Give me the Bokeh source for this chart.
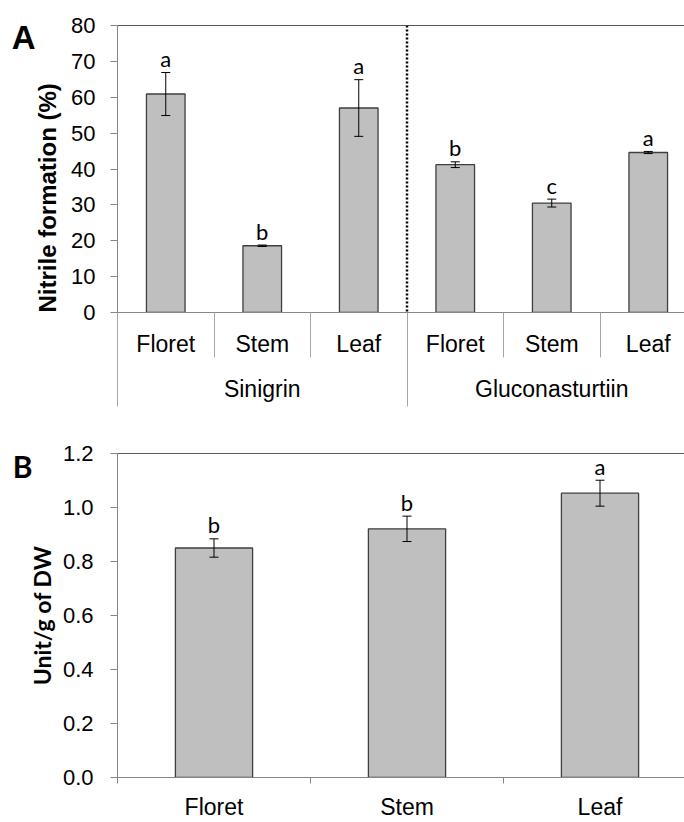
import math
from bokeh.plotting import figure
from bokeh.layouts import column
from bokeh.models import (Range1d, LinearAxis, FixedTicker, Whisker, TeeHead,
                          ColumnDataSource, Span, Title, NumeralTickFormatter)
from bokeh.core.properties import value
from bokeh.embed import file_html
from bokeh.resources import INLINE

# ---------------- data ----------------
# Panel A: nitrile formation (%)
a_groups = ["Sinigrin", "Gluconasturtiin"]
a_tissues = ["Floret", "Stem", "Leaf"]
a_means = [60.9, 18.6, 57.0, 41.2, 30.5, 44.6]
a_errors = [6.0, 0.2, 7.9, 0.8, 1.1, 0.3]
a_letters = ["a", "b", "a", "b", "c", "a"]
a_ticks = [0, 10, 20, 30, 40, 50, 60, 70, 80]

# Panel B: Unit/g of DW
b_tissues = ["Floret", "Stem", "Leaf"]
b_means = [0.850, 0.921, 1.053]
b_errors = [0.034, 0.047, 0.048]
b_letters = ["b", "b", "a"]
b_ticks = [0.0, 0.2, 0.4, 0.6, 0.8, 1.0, 1.2]

# ---------------- styles ----------------
W = 684
LEFT = 117
BAR_FILL = "#BFBFBF"
BAR_LINE = "#3F3F3F"
AXIS_C = "#868686"
SEP_C = "#A6A6A6"
TICK_FONT = "Liberation Sans"
LETTER_FONT = "Lato"


def base_fig(height, top, bottom, cat_px, ymax):
    p = figure(width=W, height=height, output_backend="svg", toolbar_location=None,
               x_range=Range1d(0, (W - LEFT) / cat_px), y_range=Range1d(0, ymax),
               min_border_left=LEFT, min_border_right=0,
               min_border_top=top, min_border_bottom=bottom,
               x_axis_location=None, y_axis_location=None)
    p.xgrid.visible = False
    p.ygrid.visible = False
    p.outline_line_color = None
    p.background_fill_color = "white"
    p.border_fill_color = "white"
    top_ax = LinearAxis(ticker=FixedTicker(ticks=[]), axis_line_color="#595959",
                        major_tick_line_color=None, minor_tick_line_color=None,
                        major_label_text_font_size="0px", major_label_standoff=0)
    p.add_layout(top_ax, "above")
    return p


def add_bars(p, means, errors, letters):
    xs = [i + 0.5 for i in range(len(means))]
    src = ColumnDataSource(dict(
        x=xs, top=means,
        upper=[m + e for m, e in zip(means, errors)],
        lower=[m - e for m, e in zip(means, errors)],
        letter=letters))
    p.vbar(x="x", top="top", width=0.4, bottom=0, source=src,
           fill_color=BAR_FILL, line_color=BAR_LINE, line_width=1.3)
    p.add_layout(Whisker(source=src, base="x", upper="upper", lower="lower",
                         level="overlay", line_color="black", line_width=1,
                         upper_head=TeeHead(size=9, line_color="black", line_width=1),
                         lower_head=TeeHead(size=9, line_color="black", line_width=1)))
    p.text(x="x", y="upper", text="letter", source=src, text_align="center",
           text_baseline="alphabetic", text_font=value(LETTER_FONT),
           text_font_size="22px", text_color="black", y_offset=-14)
    return xs


def y_axis(ticks, standoff):
    return LinearAxis(ticker=FixedTicker(ticks=ticks), major_tick_out=7, major_tick_in=0,
                      minor_tick_line_color=None, axis_line_color=AXIS_C,
                      major_tick_line_color=AXIS_C, major_label_standoff=standoff,
                      major_label_text_font=TICK_FONT, major_label_text_font_size="22px",
                      major_label_text_color="black")


def panel_letter_axis(letter, at, font, size, standoff):
    # a bare axis carrying only the panel letter as its single label
    return LinearAxis(ticker=FixedTicker(ticks=[at]), major_label_overrides={at: letter},
                      axis_line_color=None, major_tick_line_color=None,
                      minor_tick_line_color=None, major_tick_out=0, major_tick_in=0,
                      major_label_standoff=standoff, major_label_text_font=font,
                      major_label_text_font_style="bold", major_label_text_font_size=size,
                      major_label_text_color="black")


# ---------------- Panel A ----------------
a_labels = [t for g in a_groups for t in a_tissues]
pA = base_fig(440, 25, 128, 96.5, 80)
a_x = add_bars(pA, a_means, a_errors, a_letters)

pA.add_layout(y_axis(a_ticks, 15), "left")
pA.add_layout(Title(text="Nitrile formation (%)", align="left", offset=0,
                    standoff=16, text_font=TICK_FONT, text_font_style="bold",
                    text_font_size="24px", text_color="black"), "left")
pA.add_layout(panel_letter_axis("A", 76.6, TICK_FONT, "33px", -12), "left")

SEP_IN = 45
ax1 = LinearAxis(ticker=FixedTicker(ticks=a_x, minor_ticks=list(range(len(a_labels) + 1))),
                 major_label_overrides={x: lab for x, lab in zip(a_x, a_labels)},
                 major_tick_out=0, major_tick_in=0, major_tick_line_color=None,
                 minor_tick_out=SEP_IN, minor_tick_in=0, minor_tick_line_color=SEP_C,
                 axis_line_color=AXIS_C, major_label_standoff=18 - SEP_IN,
                 major_label_text_font=TICK_FONT, major_label_text_font_size="23px",
                 major_label_text_color="black")
pA.add_layout(ax1, "below")

n_t = len(a_tissues)
g_centers = [g * n_t + n_t / 2 for g in range(len(a_groups))]
g_bounds = [g * n_t for g in range(len(a_groups) + 1)]
SEP_OUT = 47
ax2 = LinearAxis(ticker=FixedTicker(ticks=g_centers, minor_ticks=g_bounds),
                 major_label_overrides={x: lab for x, lab in zip(g_centers, a_groups)},
                 major_tick_out=0, major_tick_in=0, major_tick_line_color=None,
                 minor_tick_out=SEP_OUT, minor_tick_in=3, minor_tick_line_color=SEP_C,
                 axis_line_color=None, major_label_standoff=16 - SEP_OUT,
                 major_label_text_font=TICK_FONT, major_label_text_font_size="23px",
                 major_label_text_color="black")
pA.add_layout(ax2, "below")

pA.add_layout(Span(location=n_t, dimension="height", line_color="black",
                   line_width=2.5, line_dash="2 2"))

# ---------------- Panel B ----------------
pB = base_fig(382, 13, 43, 193, 1.2)
b_x = add_bars(pB, b_means, b_errors, b_letters)

ayB = y_axis(b_ticks, 17)
ayB.formatter = NumeralTickFormatter(format="0.0")
ayB.axis_label = "Unit/g of DW"
ayB.axis_label_standoff = 4
ayB.axis_label_text_font = LETTER_FONT
ayB.axis_label_text_font_style = "bold"
ayB.axis_label_text_font_size = "23px"
ayB.axis_label_text_color = "black"
pB.add_layout(ayB, "left")
pB.add_layout(panel_letter_axis("B", 1.153, LETTER_FONT, "30px", -8), "left")

axB = LinearAxis(ticker=FixedTicker(ticks=b_x, minor_ticks=list(range(len(b_tissues) + 1))),
                 major_label_overrides={x: lab for x, lab in zip(b_x, b_tissues)},
                 major_tick_out=0, major_tick_in=0, major_tick_line_color=None,
                 minor_tick_out=6, minor_tick_in=0, minor_tick_line_color=AXIS_C,
                 axis_line_color=AXIS_C, major_label_standoff=10,
                 major_label_text_font=TICK_FONT, major_label_text_font_size="23px",
                 major_label_text_color="black")
pB.add_layout(axB, "below")

layout = column(pA, pB, spacing=0)
open("out.html", "w").write(file_html(layout, INLINE))
